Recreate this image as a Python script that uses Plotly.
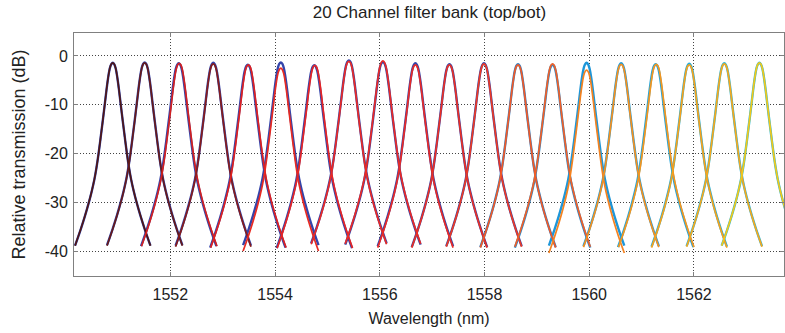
import plotly.graph_objects as go

# Channel centre wavelengths (nm)
centers_top = [1550.90, 1551.51, 1552.17, 1552.82, 1553.49, 1554.11, 1554.76,
               1555.41, 1556.06, 1556.68, 1557.33, 1557.99, 1558.64, 1559.30,
               1559.95, 1560.61, 1561.28, 1561.91, 1562.58, 1563.25]
centers_bot = [1550.90, 1551.51, 1552.16, 1552.82, 1553.48, 1554.11, 1554.75,
               1555.41, 1556.06, 1556.68, 1557.33, 1557.99, 1558.64, 1559.30,
               1559.95, 1560.61, 1561.27, 1561.91, 1562.58, 1563.25]
# Peak transmission (dB) for each channel
peak_top = [-1.4, -1.4, -1.5, -1.6, -1.8, -2.5, -1.9, -1.1, -1.0, -1.8,
            -1.8, -1.6, -1.8, -1.6, -2.9, -1.7, -1.7, -1.8, -1.6, -1.4]
peak_bot = [-1.4, -1.3, -1.5, -1.4, -1.8, -1.3, -1.9, -0.9, -1.2, -1.5,
            -1.7, -1.5, -1.7, -1.8, -1.4, -1.5, -1.7, -1.6, -1.5, -1.4]
# Filter shape read from one channel: offset from centre (nm) vs dB below peak
shape_offset = [0, 0.03, 0.06, 0.09, 0.12, 0.15, 0.19, 0.23, 0.27, 0.31,
                0.35, 0.40, 0.46, 0.53, 0.61, 0.72]
shape_db = [0, -0.3, -1.3, -3.2, -5.6, -8.3, -11.8, -15.2, -18.5, -21.4,
            -23.8, -26.2, -28.7, -31.3, -34.0, -37.4]

colors_top = ["#4e1616", "#661a1a", "#d42020", "#861c1c", "#e02020",
              "#e82a22", "#e82424", "#ea2a26", "#ea2a26", "#ea2a26",
              "#ea3025", "#ec3a25", "#f05a28", "#f06028", "#f5821f",
              "#f5901f", "#f5961e", "#f7a21c", "#f6a81d", "#f2c81a"]
colors_bot = ["#3344aa"] * 12 + ["#2a7cc4", "#2a86c8", "#1e96d8", "#1e9cdc",
                                 "#20a4da", "#22acd8", "#28b4d8", "#2ab8d8"]

x_ticks = [1552, 1554, 1556, 1558, 1560, 1562]
y_ticks = [0, -10, -20, -30, -40]

offs = [-o for o in shape_offset[::-1]] + shape_offset[1:]
rel = shape_db[::-1] + shape_db[1:]

fig = go.Figure()
for i in range(len(centers_top)):
    fig.add_trace(go.Scatter(
        x=[centers_bot[i] + o for o in offs],
        y=[peak_bot[i] + r for r in rel],
        mode="lines", line=dict(color=colors_bot[i], width=2.4, shape="spline"),
        showlegend=False, hoverinfo="skip"))
for i in range(len(centers_top)):
    fig.add_trace(go.Scatter(
        x=[centers_top[i] + o for o in offs],
        y=[peak_top[i] + r for r in rel],
        mode="lines", line=dict(color=colors_top[i], width=1.7, shape="spline"),
        showlegend=False, hoverinfo="skip"))

font = "Liberation Sans, Arial, sans-serif"
axis_common = dict(showline=True, linecolor="#808080", linewidth=1, mirror="ticks",
                   ticks="inside", ticklen=4, tickcolor="#808080",
                   showgrid=True, gridcolor="#444444", griddash="1px,2px", gridwidth=1,
                   zeroline=False, tickfont=dict(family=font, size=16, color="#222"))
fig.update_xaxes(range=[1550.16, 1563.72], tickvals=x_ticks,
                 ticktext=[str(t) for t in x_ticks], ticklabelstandoff=4,
                 title=dict(text="Wavelength (nm)", font=dict(family=font, size=16, color="#222"),
                            standoff=10), **axis_common)
fig.update_yaxes(range=[-45, 4.7], tickvals=y_ticks,
                 ticktext=[str(t) for t in y_ticks], ticklabelstandoff=2,
                 title=dict(text="Relative transmission (dB)", font=dict(family=font, size=18, color="#222"),
                            standoff=14), **axis_common)
fig.update_layout(
    width=785, height=333,
    margin=dict(l=74, r=1, t=33, b=57),
    paper_bgcolor="white", plot_bgcolor="white",
    title=dict(text="20 Channel filter bank (top/bot)", x=0.547, xanchor="center",
               y=0.963, yanchor="middle", font=dict(family=font, size=17, color="#222")),
)
fig.write_html("out.html")
